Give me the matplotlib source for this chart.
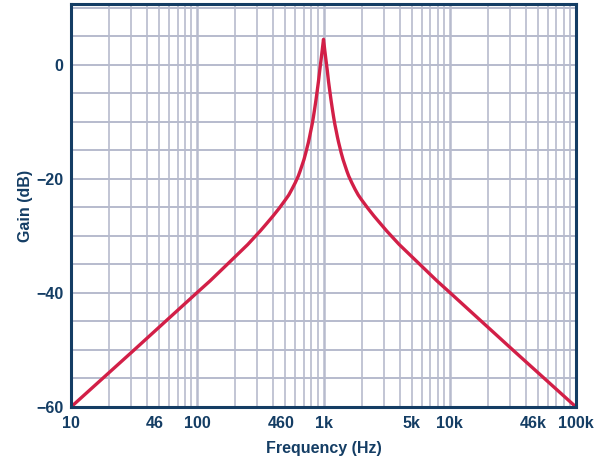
import matplotlib
matplotlib.use("Agg")
import matplotlib.pyplot as plt
from matplotlib.ticker import FixedLocator, NullFormatter

# Data (frequency in Hz, gain in dB)
freq_hz = [10, 31.6, 100, 126, 178, 251, 316, 355, 398, 447, 501, 531, 562, 596,
           631, 653, 676, 700, 724, 741, 759, 776, 794, 813, 832, 851, 871, 891,
           912, 933, 955, 977, 1000, 1023, 1047, 1072, 1096, 1122, 1148, 1175,
           1202, 1230, 1259, 1288, 1318, 1349, 1380, 1429, 1479, 1531, 1585,
           1679, 1778, 1884, 1995, 2239, 2512, 2818, 3162, 3981, 5623, 7943,
           10000, 31623, 100000]
gain_db = [-60.0, -50.0, -39.9, -37.9, -34.7, -31.5, -29.1, -27.8, -26.5, -25.1,
           -23.6, -22.8, -21.8, -20.7, -19.5, -18.6, -17.6, -16.6, -15.4, -14.5,
           -13.6, -12.6, -11.5, -10.4, -9.1, -7.7, -6.2, -4.6, -2.9, -1.0, 0.8,
           2.6, 4.5, 2.6, 0.8, -1.0, -2.9, -4.6, -6.2, -7.7, -9.1, -10.4, -11.5,
           -12.6, -13.6, -14.5, -15.4, -16.6, -17.6, -18.6, -19.5, -20.7, -21.8,
           -22.8, -23.6, -25.1, -26.5, -27.8, -29.1, -31.5, -34.7, -37.9, -39.9,
           -50.0, -60.0]

xtick_vals = [10, 46, 100, 460, 1000, 5000, 10000, 46000, 100000]
xtick_labels = ["10", "46", "100", "460", "1k", "5k", "10k", "46k", "100k"]
ytick_vals = [0, -20, -40, -60]
ytick_labels = ["0", "\u221220", "\u221240", "\u221260"]

navy = "#143d64"
grid_c = "#b7bbcd"
red = "#d21f47"

plt.rcParams["font.family"] = ["Liberation Sans", "DejaVu Sans"]

fig = plt.figure(figsize=(6.15, 4.58), dpi=100)
ax = fig.add_axes([71/615, 1-407/458, (576-71)/615, (407-4)/458])

ax.set_xscale("log")
ax.set_xlim(10, 100000)
ax.set_ylim(-60, 10.7)

# grid lines
minor_pos = []
for dec in [10, 100, 1000, 10000]:
    for m in range(2, 10):
        minor_pos.append(dec * m)
for x in minor_pos:
    ax.axvline(x, color=grid_c, lw=1.2, zorder=1)
for x in [100, 1000, 10000]:
    ax.axvline(x, color=grid_c, lw=1.8, zorder=1)
for y in range(-55, 11, 5):
    ax.axhline(y, color=grid_c, lw=1.4, zorder=1)

ax.plot(freq_hz, gain_db, color=red, lw=2.4, zorder=3,
        solid_joinstyle="round", solid_capstyle="butt")

ax.xaxis.set_major_locator(FixedLocator(xtick_vals))
ax.set_xticklabels(xtick_labels)
ax.xaxis.set_minor_locator(FixedLocator([]))
ax.xaxis.set_minor_formatter(NullFormatter())
ax.set_yticks(ytick_vals)
ax.set_yticklabels(ytick_labels)

ax.tick_params(axis="both", length=0, labelsize=11.5, labelcolor=navy)
ax.tick_params(axis="x", pad=6.5)
ax.tick_params(axis="y", pad=5.5)
for lab in ax.get_xticklabels() + ax.get_yticklabels():
    lab.set_fontweight("bold")

for s in ax.spines.values():
    s.set_color(navy)
    s.set_linewidth(2.2)
    s.set_zorder(4)

ax.set_xlabel("Frequency (Hz)", fontsize=11.5, fontweight="bold", color=navy, labelpad=7.5)
ax.set_ylabel("Gain (dB)", fontsize=11.5, fontweight="bold", color=navy, labelpad=2)

fig.savefig("out.png", dpi=100)
